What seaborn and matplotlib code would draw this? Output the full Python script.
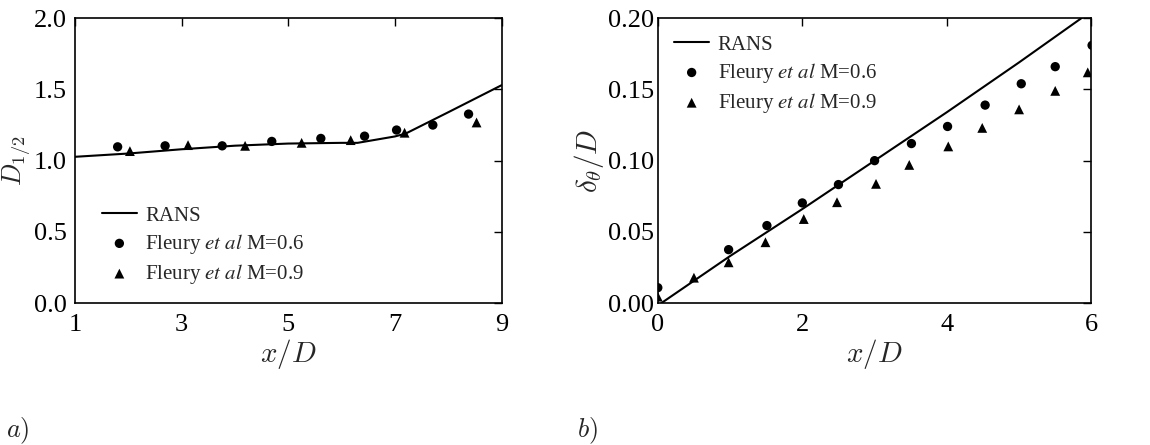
# figura: D_1/2 y espesor de cantidad de movimiento vs x/D
import numpy as np
import matplotlib
matplotlib.use("Agg")
import matplotlib.pyplot as plt
import seaborn as sns

# panel a) semi-diametro
rans_a_x = [1.0, 2.0, 3.0, 4.0, 5.0, 6.0, 6.3, 7.0, 7.2, 8.0, 9.0]
rans_a_y = [1.027, 1.05, 1.08, 1.105, 1.12, 1.125, 1.125, 1.17, 1.19, 1.34, 1.53]
m06_a_x = [1.80, 2.69, 3.76, 4.69, 5.61, 6.43, 7.03, 7.71, 8.38]
m06_a_y = [1.097, 1.104, 1.104, 1.135, 1.156, 1.172, 1.215, 1.25, 1.327]
m09_a_x = [2.03, 3.12, 4.19, 5.25, 6.17, 7.18, 8.53]
m09_a_y = [1.067, 1.109, 1.104, 1.125, 1.144, 1.196, 1.268]

# panel b) espesor
rans_b_x = [0.05, 1.0, 2.0, 3.0, 4.0, 5.0, 6.0]
rans_b_y = [0.0, 0.033, 0.066, 0.100, 0.134, 0.169, 0.205]
m06_b_x = [0.0, 0.98, 1.51, 2.0, 2.5, 3.0, 3.51, 4.01, 4.53, 5.03, 5.5, 6.01]
m06_b_y = [0.0108, 0.0375, 0.0544, 0.0703, 0.0832, 0.100, 0.112, 0.124, 0.139, 0.154, 0.166, 0.181]
m09_b_x = [0.0, 0.5, 0.98, 1.49, 2.02, 2.48, 3.02, 3.48, 4.02, 4.49, 5.0, 5.5, 5.95]
m09_b_y = [0.0045, 0.0178, 0.0286, 0.0427, 0.059, 0.0708, 0.0837, 0.097, 0.110, 0.123, 0.136, 0.149, 0.162]

LBL_06 = r"Fleury $\mathit{et\ al}$ M=0.6"
LBL_09 = r"Fleury $\mathit{et\ al}$ M=0.9"

sns.set_style("white")
plt.rcParams["font.family"] = ["Liberation Serif", "DejaVu Serif"]
plt.rcParams["mathtext.fontset"] = "cm"

fig = plt.figure(figsize=(11.5, 4.45), dpi=100)
ax1 = fig.add_axes([0.0652, 0.319, 0.371, 0.640])
ax2 = fig.add_axes([0.572, 0.319, 0.377, 0.640])


def dibujar(ax, rx, ry, ax6, ay6, ax9, ay9, ypad):
    sns.lineplot(x=rx, y=ry, ax=ax, color="black", lw=1.5, label="RANS", sort=False)
    sns.scatterplot(x=ax6, y=ay6, ax=ax, color="black", marker="o", s=45,
                    edgecolor="none", label=LBL_06)
    sns.scatterplot(x=ax9, y=ay9, ax=ax, color="black", marker="^", s=50,
                    edgecolor="none", label=LBL_09)
    ax.tick_params(direction="in", top=True, right=True, length=6, width=1,
                   labelsize=19, colors="black")
    ax.tick_params(axis="x", pad=8)
    ax.tick_params(axis="y", pad=ypad)
    for s in ax.spines.values():
        s.set_color("black")
        s.set_linewidth(1.2)
    ax.set_xlabel("$x/D$", fontsize=21)
    ax.xaxis.set_label_coords(0.5, -0.12)


dibujar(ax1, rans_a_x, rans_a_y, m06_a_x, m06_a_y, m09_a_x, m09_a_y, 6)
ax1.set_xlim(1, 9)
ax1.set_ylim(0, 2.0)
ax1.set_xticks([1, 3, 5, 7, 9])
ax1.set_yticks([0, 0.5, 1.0, 1.5, 2.0])
ax1.set_yticklabels(["0.0", "0.5", "1.0", "1.5", "2.0"])
ax1.set_ylabel("$D_{1/2}$", fontsize=19)
ax1.yaxis.set_label_coords(-0.098, 0.5)
leg1 = ax1.legend(loc="upper left", bbox_to_anchor=(0.043, 0.37), frameon=False,
                  fontsize=15, handlelength=1.7, handletextpad=0.4, labelspacing=0.3,
                  borderaxespad=0)

dibujar(ax2, rans_b_x, rans_b_y, m06_b_x, m06_b_y, m09_b_x, m09_b_y, 3)
ax2.set_xlim(0, 6)
ax2.set_ylim(0, 0.2)
ax2.set_xticks([0, 2, 4, 6])
ax2.set_yticks([0, 0.05, 0.10, 0.15, 0.20])
ax2.set_yticklabels(["0.00", "0.05", "0.10", "0.15", "0.20"])
ax2.set_ylabel(r"$\delta_\theta/D$", fontsize=21)
ax2.yaxis.set_label_coords(-0.12, 0.5)
leg2 = ax2.legend(loc="upper left", bbox_to_anchor=(0.018, 0.97), frameon=False,
                  fontsize=15, handlelength=1.7, handletextpad=0.4, labelspacing=0.3,
                  borderaxespad=0)

for leg in (leg1, leg2):
    for t in leg.get_texts():
        t.set_math_fontfamily("stix")

fig.text(0.005, 0.018, "$a)$", fontsize=19)
fig.text(0.502, 0.018, "$b)$", fontsize=19)

plt.savefig("out.png", dpi=100)
plt.close()
